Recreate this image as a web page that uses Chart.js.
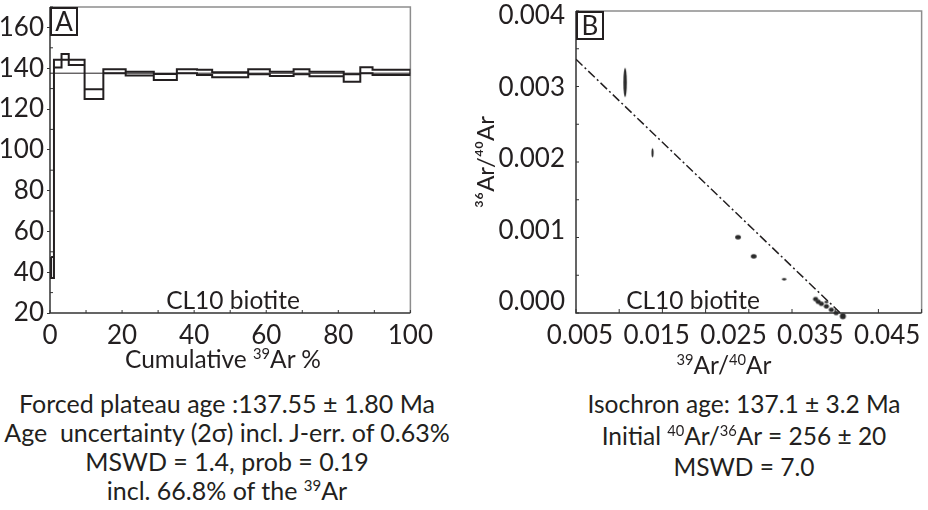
<!DOCTYPE html>
<html>
<head>
<meta charset="utf-8">
<script src="https://cdn.jsdelivr.net/npm/chart.js@4.4.1/dist/chart.umd.min.js"></script>
<style>
  body { margin: 0; width: 928px; height: 510px; overflow: hidden; position: relative; background: #fff;
         font-family: Lato, "Open Sans", sans-serif; color: #231f20; }
  canvas { position: absolute; top: 0; }
  #chartA { left: 0; }
  #chartB { left: 470px; }
  .txt { position: absolute; white-space: pre; transform: translate(-50%, -50%); line-height: 1; }
  .sup { font-size: 0.6em; position: relative; top: -0.6em; line-height: 0; }
  .tag { position: absolute; border: 2px solid #231f20; box-sizing: border-box; font-size: 26px;
         text-align: center; line-height: 25px; background: #fff; }
  .cap { position: absolute; text-align: center; white-space: pre; }
</style>
</head>
<body>
<canvas id="chartA" width="440" height="350"></canvas>
<canvas id="chartB" width="458" height="350"></canvas>

<div class="tag" style="left:50px;top:7px;width:28px;height:29px;">A</div>
<div class="tag" style="left:576px;top:11px;width:28px;height:29px;">B</div>

<div class="txt" style="left:233px;top:300px;font-size:24.5px;">CL10 biotite</div>
<div class="txt" style="left:693px;top:300px;font-size:24.5px;">CL10 biotite</div>

<div class="txt" style="left:223px;top:359px;font-size:24.5px;">Cumulative <span class="sup">39</span>Ar %</div>
<div class="txt" style="left:724px;top:365px;font-size:24.5px;"><span class="sup">39</span>Ar/<span class="sup">40</span>Ar</div>

<div class="cap" style="left:-3px;top:389px;width:460px;line-height:29px;font-size:25px;">Forced plateau age :137.55 ± 1.80 Ma
Age  uncertainty (2σ) incl. J-err. of 0.63%
MSWD = 1.4, prob = 0.19
incl. 66.8% of the <span class="sup">39</span>Ar</div>

<div class="cap" style="left:544px;top:388px;width:400px;line-height:31.5px;font-size:24.5px;">Isochron age: 137.1 ± 3.2 Ma
Initial <span class="sup">40</span>Ar/<span class="sup">36</span>Ar = 256 ± 20
MSWD = 7.0</div>

<script>
// panel A: age spectrum (step edges in cumulative 39Ar %, ages in Ma)
const stepEdges = [0.3, 1.1, 3.2, 5.2, 9.6, 14.8, 21.0, 28.8, 35.2, 40.8, 45.0, 55.0, 61.0, 67.6, 72.0, 81.5, 86.1, 89.5, 100];
const ageHigh = [47.4, 144.1, 146.9, 144.1, 129.7, 139.5, 138.3, 137.2, 139.5, 139.2, 138.0, 139.5, 138.3, 139.5, 138.3, 137.0, 140.5, 139.2];
const ageLow  = [37.1, 140.3, 144.1, 141.6, 124.9, 137.5, 136.4, 134.2, 137.5, 136.7, 135.6, 137.0, 136.2, 137.0, 136.0, 133.4, 137.5, 136.7];
const plateauAge = 137.55;
const xTicksA = [0, 20, 40, 60, 80, 100];
const yTicksA = [20, 40, 60, 80, 100, 120, 140, 160];

// panel B: inverse isochron
const isoX    = [0.01068, 0.01386, 0.02375, 0.02557, 0.02909, 0.03273, 0.03303, 0.03398, 0.0334, 0.03398, 0.03455, 0.03511, 0.03588];
const isoY    = [0.003053, 0.002122, 0.001004, 0.00075, 0.000447, 0.000184, 0.000149, 0.000145, 0.000122, 0.000088, 0.000043, 0.0, -0.000043];
const isoXErr = [0.0002, 0.00012, 0.00033, 0.00033, 0.00027, 0.0003, 0.0003, 0.00025, 0.0003, 0.0003, 0.0003, 0.0003, 0.00035];
const isoYErr = [0.000193, 0.00006, 0.000029, 0.000029, 0.000015, 0.00003, 0.00003, 0.000015, 0.00003, 0.00003, 0.00003, 0.00003, 0.00004];
const lineX = [0.005, 0.0356];
const lineY = [0.00336, 0.0];
const xTicksB = [0.005, 0.015, 0.025, 0.035, 0.045];
const yTicksB = [0, 0.001, 0.002, 0.003, 0.004];

const ink = '#231f20';
const tickFont = {family: 'Lato', size: 26};

// frame + inward tick marks
const framePlugin = {
  id: 'frame',
  beforeDatasetsDraw(chart, args, o) {
    const {left, right, top, bottom} = chart.chartArea;
    const c = chart.ctx;
    const xs = chart.scales.x, ys = chart.scales.y;
    c.save();
    c.lineWidth = 1.5;
    c.strokeStyle = '#8d8d8d';
    c.beginPath(); c.moveTo(left, top); c.lineTo(right, top); c.lineTo(right, bottom); c.stroke();
    c.strokeStyle = '#333';
    c.beginPath(); c.moveTo(left, top); c.lineTo(left, bottom); c.lineTo(right, bottom); c.stroke();
    c.lineWidth = 1;
    c.beginPath();
    for (let i = 0; ; i++) {
      const v = o.x.from + i * o.x.step;
      if (v > o.x.to + 1e-9) break;
      const px = xs.getPixelForValue(v);
      c.moveTo(px, bottom); c.lineTo(px, bottom - o.x.len);
    }
    for (let i = 0; ; i++) {
      const v = o.y.from + i * o.y.step;
      if (v > o.y.to + 1e-9) break;
      if (o.y.skipEvery && i % o.y.skipEvery === 0) continue;
      const py = ys.getPixelForValue(v);
      c.moveTo(left, py); c.lineTo(left + o.y.len, py);
    }
    c.stroke();
    c.restore();
  }
};

// keep the plot box where it is in the figure, labels may hang over the padding
function noPad(s) {
  s.paddingTop = 0; s.paddingBottom = 0;
}

// outline of the step boxes: top edge forward, bottom edge back
const outline = [];
for (let i = 0; i < ageHigh.length; i++) {
  outline.push({x: stepEdges[i], y: ageHigh[i]}, {x: stepEdges[i + 1], y: ageHigh[i]});
}
for (let i = ageLow.length - 1; i >= 0; i--) {
  outline.push({x: stepEdges[i + 1], y: ageLow[i]}, {x: stepEdges[i], y: ageLow[i]});
}
outline.push({x: stepEdges[0], y: ageHigh[0]});

new Chart(document.getElementById('chartA'), {
  type: 'scatter',
  data: {
    datasets: [
      {data: [{x: 0, y: plateauAge}, {x: 100, y: plateauAge}], showLine: true, borderColor: ink, borderWidth: 1, pointRadius: 0},
      {data: outline, showLine: true, borderColor: ink, borderWidth: 2, pointRadius: 0, fill: false}
    ]
  },
  options: {
    responsive: false, animation: false, events: [],
    layout: {padding: {top: 7, right: 25, left: 0, bottom: 0}},
    plugins: {
      legend: {display: false}, tooltip: {enabled: false},
      frame: {x: {from: 0, to: 100, step: 10, len: 3}, y: {from: 20, to: 170, step: 10, len: 3, skipEvery: 2}}
    },
    scales: {
      x: {
        type: 'linear', min: 0, max: 100,
        afterBuildTicks: s => { s.ticks = xTicksA.map(v => ({value: v})); },
        afterFit: s => { s.height = 37; },
        grid: {display: false, drawTicks: false}, border: {display: false},
        ticks: {font: tickFont, color: ink, padding: 7, maxRotation: 0}
      },
      y: {
        min: 20, max: 170,
        afterBuildTicks: s => { s.ticks = yTicksA.map(v => ({value: v})); },
        afterFit: s => { s.width = 50; noPad(s); },
        grid: {drawOnChartArea: false, drawTicks: true, tickLength: 3, color: '#333'}, border: {display: false},
        ticks: {font: tickFont, color: ink, padding: 3}
      }
    }
  },
  plugins: [framePlugin]
});

// filled ellipse per point, sized from the errors through the scales
function ellipseStyle(ctx) {
  const i = ctx.dataIndex, ch = ctx.chart;
  const xs = ch.scales.x, ys = ch.scales.y;
  if (!xs || !ys || i === undefined) return 'circle';
  const rx = Math.max(1, Math.abs(xs.getPixelForValue(isoX[i] + isoXErr[i]) - xs.getPixelForValue(isoX[i])));
  const ry = Math.max(1, Math.abs(ys.getPixelForValue(isoY[i] + isoYErr[i]) - ys.getPixelForValue(isoY[i])));
  const cv = document.createElement('canvas');
  cv.width = Math.ceil(rx * 2) + 2;
  cv.height = Math.ceil(ry * 2) + 2;
  const g = cv.getContext('2d');
  g.fillStyle = '#2a2a2a';
  g.beginPath();
  g.ellipse(cv.width / 2, cv.height / 2, rx, ry, 0, 0, Math.PI * 2);
  g.fill();
  return cv;
}

// the figure's tick labels sit a little off its tick marks, so they get their own axes
new Chart(document.getElementById('chartB'), {
  type: 'scatter',
  data: {
    datasets: [
      {data: lineX.map((x, i) => ({x, y: lineY[i]})), showLine: true, borderColor: ink, borderWidth: 1.5,
       borderDash: [9, 3, 2, 3], pointRadius: 0},
      {data: isoX.map((x, i) => ({x, y: isoY[i]})), pointStyle: ellipseStyle, pointRadius: 4, clip: false}
    ]
  },
  options: {
    responsive: false, animation: false, events: [],
    layout: {padding: {top: 11, right: 1, left: 0, bottom: 0}},
    plugins: {
      legend: {display: false}, tooltip: {enabled: false},
      frame: {x: {from: 0.005, to: 0.045, step: 0.005, len: 4}, y: {from: 0, to: 0.004, step: 0.0005, len: 3}}
    },
    scales: {
      x: {type: 'linear', min: 0.005, max: 0.045, display: false},
      y: {type: 'linear', min: 0, max: 0.004, display: false},
      xl: {
        type: 'linear', position: 'bottom', min: 0.00449, max: 0.04949,
        afterBuildTicks: s => { s.ticks = xTicksB.map(v => ({value: v})); },
        afterFit: s => { s.height = 37; },
        grid: {display: false, drawTicks: false}, border: {display: false},
        ticks: {font: tickFont, color: ink, padding: 7, maxRotation: 0, callback: v => v.toFixed(3)}
      },
      yl: {
        type: 'linear', position: 'left', min: -0.000153, max: 0.004069,
        afterBuildTicks: s => { s.ticks = yTicksB.map(v => ({value: v})); },
        afterFit: s => { s.width = 106; noPad(s); },
        grid: {display: false, drawTicks: false}, border: {display: false},
        ticks: {font: tickFont, color: ink, padding: 11, callback: v => v.toFixed(3)},
        title: {display: true, text: '³⁶Ar/⁴⁰Ar', font: {family: 'Lato', size: 24}, color: ink, padding: {top: 2, bottom: 0}}
      }
    }
  },
  plugins: [framePlugin]
});
</script>
</body>
</html>
